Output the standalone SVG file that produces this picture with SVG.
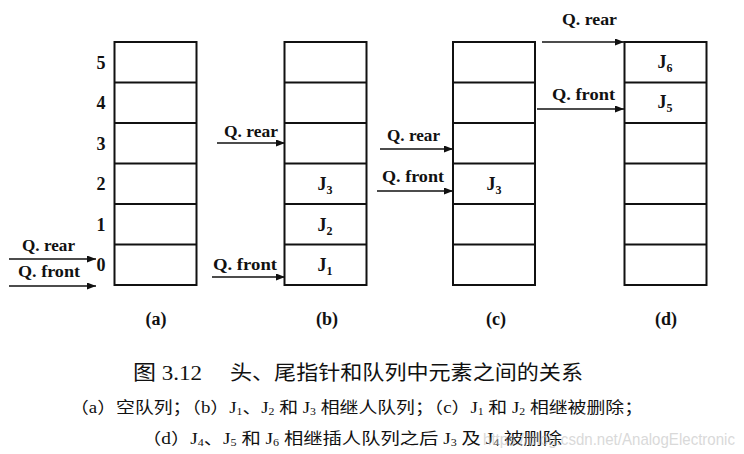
<svg xmlns="http://www.w3.org/2000/svg" width="744" height="454" viewBox="0 0 744 454">
<style>
.box{fill:#fff;stroke:#111;stroke-width:2}
.cell{stroke:#111;stroke-width:2}
.lbl{font-family:"Liberation Serif",serif;font-weight:bold;font-size:16px;fill:#111}
.num{font-family:"Liberation Serif",serif;font-weight:bold;font-size:18px;fill:#111;text-anchor:middle}
.jj{font-family:"Liberation Serif",serif;font-weight:bold;font-size:18px;fill:#111;text-anchor:middle}
.sub{font-size:12px}
.cap{font-family:"Liberation Serif","Noto Sans CJK SC",serif;fill:#111}
.arrow{stroke:#111;stroke-width:1.6;fill:none;marker-end:url(#ah)}
.wm{font-family:"Liberation Sans",sans-serif;font-size:17px;fill:#bbb;opacity:0.55}
</style>
<defs>
<marker id="ah" markerWidth="9" markerHeight="7" refX="9" refY="3.5" orient="auto" markerUnits="userSpaceOnUse">
<path d="M0,0 L9,3.5 L0,7 z" fill="#111"/>
</marker>
<g id="cells">
<rect class="box" x="0" y="0" width="82" height="243"/>
<line class="cell" x1="0" y1="40.5" x2="82" y2="40.5"/>
<line class="cell" x1="0" y1="81" x2="82" y2="81"/>
<line class="cell" x1="0" y1="121.5" x2="82" y2="121.5"/>
<line class="cell" x1="0" y1="162" x2="82" y2="162"/>
<line class="cell" x1="0" y1="202.5" x2="82" y2="202.5"/>
</g>
</defs>
<rect width="744" height="454" fill="#fff"/>

<g id="queue-a">
<use href="#cells" x="114.5" y="42"/>
<text class="num" x="101" y="69">5</text>
<text class="num" x="101" y="109">4</text>
<text class="num" x="101" y="150">3</text>
<text class="num" x="101" y="190">2</text>
<text class="num" x="101" y="231">1</text>
<text class="num" x="101" y="271">0</text>
<text class="num" x="156" y="325">(a)</text>
</g>

<g id="queue-b">
<use href="#cells" x="284.5" y="42"/>
<text class="jj" x="325" y="190">J<tspan class="sub" dy="4">3</tspan></text>
<text class="jj" x="325" y="231">J<tspan class="sub" dy="4">2</tspan></text>
<text class="jj" x="325" y="271">J<tspan class="sub" dy="4">1</tspan></text>
<text class="num" x="327" y="325">(b)</text>
</g>

<g id="queue-c">
<use href="#cells" x="453" y="42"/>
<text class="jj" x="494" y="190">J<tspan class="sub" dy="4">3</tspan></text>
<text class="num" x="496" y="325">(c)</text>
</g>

<g id="queue-d">
<use href="#cells" x="624.5" y="42"/>
<text class="jj" x="665" y="68">J<tspan class="sub" dy="4">6</tspan></text>
<text class="jj" x="665" y="108">J<tspan class="sub" dy="4">5</tspan></text>
<text class="num" x="666" y="325">(d)</text>
</g>

<g id="connectors">
<line class="arrow" x1="9" y1="259" x2="96" y2="259"/>
<line class="arrow" x1="9" y1="286" x2="96" y2="286"/>
<line class="arrow" x1="217" y1="143" x2="285" y2="143"/>
<line class="arrow" x1="212" y1="277" x2="285" y2="277"/>
<line class="arrow" x1="380" y1="149" x2="453" y2="149"/>
<line class="arrow" x1="377" y1="191" x2="453" y2="191"/>
<line class="arrow" x1="542" y1="42" x2="624" y2="42"/>
<line class="arrow" x1="537" y1="109" x2="624" y2="109"/>
</g>

<g id="pointer-labels">
<text class="lbl" x="22" y="251" textLength="53" lengthAdjust="spacingAndGlyphs">Q. rear</text>
<text class="lbl" x="18" y="277" textLength="62" lengthAdjust="spacingAndGlyphs">Q. front</text>
<text class="lbl" x="224" y="137" textLength="54" lengthAdjust="spacingAndGlyphs">Q. rear</text>
<text class="lbl" x="213" y="270" textLength="64" lengthAdjust="spacingAndGlyphs">Q. front</text>
<text class="lbl" x="387" y="141" textLength="53" lengthAdjust="spacingAndGlyphs">Q. rear</text>
<text class="lbl" x="382" y="182" textLength="62" lengthAdjust="spacingAndGlyphs">Q. front</text>
<text class="lbl" x="562" y="25" textLength="55" lengthAdjust="spacingAndGlyphs">Q. rear</text>
<text class="lbl" x="552" y="100" textLength="63" lengthAdjust="spacingAndGlyphs">Q. front</text>
</g>

<g id="caption">
<text class="cap" x="133" y="380" font-size="20" textLength="69" lengthAdjust="spacingAndGlyphs">图 3.12</text>
<text class="cap" x="230" y="380" font-size="20" textLength="353" lengthAdjust="spacingAndGlyphs">头、尾指针和队列中元素之间的关系</text>
<text class="cap" x="70" y="413" font-size="16" textLength="573" lengthAdjust="spacingAndGlyphs">（a）空队列；（b）J<tspan font-size="10" dy="2">1</tspan><tspan dy="-2">、J</tspan><tspan font-size="10" dy="2">2</tspan><tspan dy="-2"> 和 J</tspan><tspan font-size="10" dy="2">3</tspan><tspan dy="-2"> 相继人队列；（c）J</tspan><tspan font-size="10" dy="2">1</tspan><tspan dy="-2"> 和 J</tspan><tspan font-size="10" dy="2">2</tspan><tspan dy="-2"> 相继被删除；</tspan></text>
<text class="cap" x="142" y="444" font-size="16" textLength="420" lengthAdjust="spacingAndGlyphs">（d）J<tspan font-size="10" dy="2">4</tspan><tspan dy="-2">、J</tspan><tspan font-size="10" dy="2">5</tspan><tspan dy="-2"> 和 J</tspan><tspan font-size="10" dy="2">6</tspan><tspan dy="-2"> 相继插人队列之后 J</tspan><tspan font-size="10" dy="2">3</tspan><tspan dy="-2"> 及 J</tspan><tspan font-size="10" dy="2">4</tspan><tspan dy="-2"> 被删除</tspan></text>
<text class="wm" x="483" y="445" textLength="252" lengthAdjust="spacingAndGlyphs">https://blog.csdn.net/AnalogElectronic</text>
</g>
</svg>
